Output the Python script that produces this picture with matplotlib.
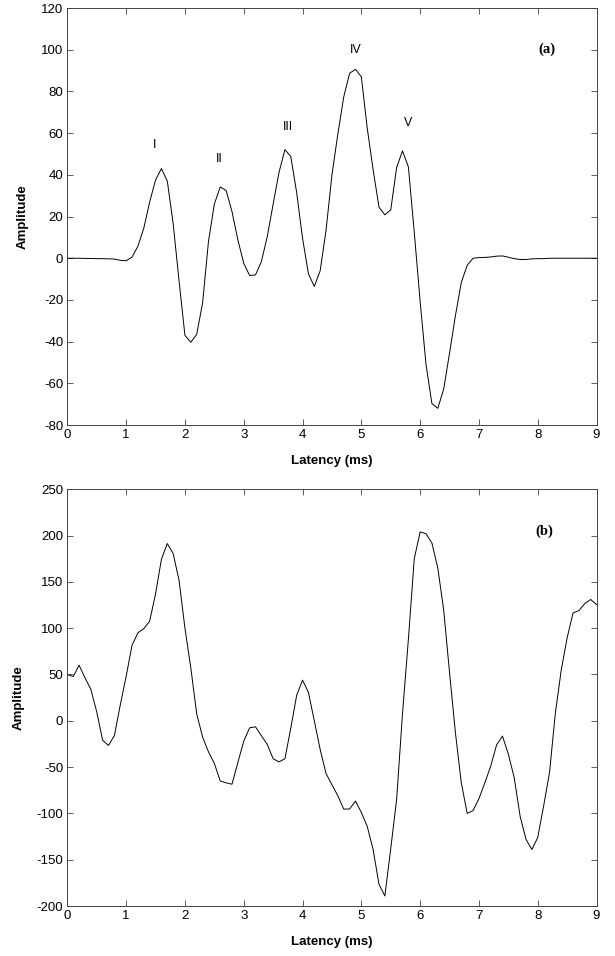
import matplotlib
matplotlib.use("Agg")
import matplotlib.pyplot as plt
import numpy as np

plt.rcParams['font.family'] = ['Liberation Sans', 'DejaVu Sans']
plt.rcParams['axes.unicode_minus'] = False

# latency axis, sampled every 0.1 ms
latency = np.round(np.arange(0, 9.01, 0.1), 1)

# (a) clean ABR template
amp_a = [0, 0, 0, -0.1, -0.1, -0.2, -0.2, -0.3, -0.4,
         -1.0, -1.2, 0.5, 5.8, 14.4, 27, 37.5, 43, 37, 16.5,
         -11, -37, -40.3, -36.5, -21.5, 8, 26, 34.2, 32.5, 22.4,
         8.8, -2.4, -8.3, -8, -1.6, 10.4, 26, 41.2, 52.1, 48.8,
         31.5, 9.6, -7.5, -13.5, -6, 13.5, 40, 59.5, 77.3, 88.7,
         90.6, 87, 62.4, 42.5, 24.5, 20.8, 23.2, 43.5, 51.5, 43.8,
         12.5, -20.8, -51, -69.7, -72, -62.8, -45.5, -27.5, -11.6, -3.4,
         0, 0.3, 0.4, 0.6, 1.0, 1.1, 0.5, -0.2, -0.6, -0.6,
         -0.3, -0.2, -0.2,
         0, 0, 0, 0, 0, 0, 0, 0, 0]

# (b) noisy recording
amp_b = [50, 47.8, 60, 46.4, 34, 9.5, -21, -26.6, -16, 17,
         48, 81.5, 95, 99.5, 107.6, 137, 174.4, 191.4, 180.6, 151.5,
         100, 57, 7.5, -17.5, -33.5, -46, -65, -67, -68.5, -45,
         -22, -7.6, -6.5, -16.2, -25.5, -41, -44.3, -41, -8, 27.5,
         43.9, 30.6, 0, -31, -57, -69, -81, -95.3, -95.3, -86.7,
         -99, -114, -139, -176.5, -189.2, -138, -85, 8, 88, 175,
         204, 202, 192, 165, 120, 52, -13, -67, -100, -97,
         -84, -67, -49, -26, -16.5, -36, -61.5, -103, -128, -139,
         -126, -92, -56, 8.6, 55, 89.6, 116.5, 119, 126.6, 131,
         125.5]

wave_labels = ['I', 'II', 'III', 'IV', 'V']
wave_x = [1.49, 2.59, 3.75, 4.9, 5.79]
wave_y = [54.5, 47.8, 63, 100, 64.7]

fig = plt.figure(figsize=(6.15, 9.56), dpi=100)
ax1 = fig.add_axes([0.1095, 0.5554, 0.8605, 0.4362])
ax2 = fig.add_axes([0.1095, 0.0523, 0.8605, 0.4359])


def style(ax, yticks):
    ax.set_xlim(0, 9)
    ax.set_xticks(range(10))
    ax.set_ylim(yticks[0], yticks[-1])
    ax.set_yticks(yticks)
    ax.tick_params(direction='in', top=True, right=True, labelsize=9.5,
                   length=4, width=0.6, color='#444444', pad=3)
    for s in ax.spines.values():
        s.set_linewidth(0.7)
        s.set_color('#444444')
    ax.set_xlabel('Latency (ms)', fontsize=9.5, fontweight='bold', labelpad=10)
    ax.set_ylabel('Amplitude', fontsize=9.5, fontweight='bold', labelpad=8.5)


ax1.plot(latency, amp_a, color='black', lw=0.7)
style(ax1, list(range(-80, 121, 20)))
for lab, x, y in zip(wave_labels, wave_x, wave_y):
    ax1.text(x, y, lab, ha='center', va='center', fontsize=9)
ax1.text(8.16, 100, '(a)', ha='center', va='center', fontsize=10.5,
         fontweight='bold', family='Liberation Serif')

ax2.plot(latency, amp_b, color='black', lw=0.7)
style(ax2, list(range(-200, 251, 50)))
ax2.text(8.12, 204.5, '(b)', ha='center', va='center', fontsize=10.5,
         fontweight='bold', family='Liberation Serif')

fig.savefig('out.png', dpi=100)
